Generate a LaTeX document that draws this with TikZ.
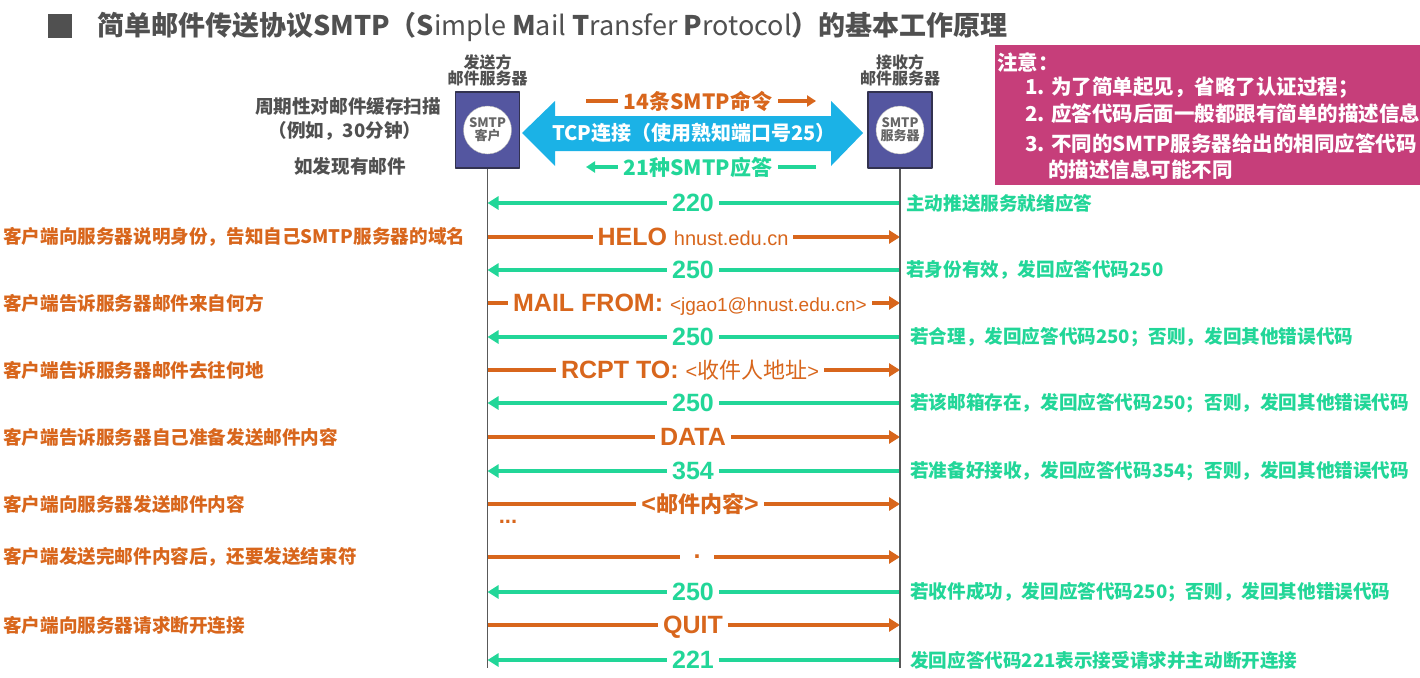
\documentclass[tikz,border=0pt]{standalone}
\usepackage{fontspec}
\setmainfont{Noto Sans CJK SC}
\newfontfamily\arialfont{Liberation Sans}
\usetikzlibrary{backgrounds}
\usetikzlibrary{arrows.meta}

\definecolor{cmdorange}{RGB}{216,102,28}
\definecolor{replygreen}{RGB}{34,214,152}
\definecolor{tcpblue}{RGB}{27,178,230}
\definecolor{boxblue}{RGB}{84,86,160}
\definecolor{boxedge}{RGB}{50,50,80}
\definecolor{notepink}{RGB}{198,62,122}
\definecolor{titlegray}{RGB}{80,80,80}

\newcommand{\fsz}[1]{\fontsize{#1}{#1}\selectfont}

\begin{document}
\begin{tikzpicture}[
    x=1pt, y=-1pt,
    font=\bfseries,
    line join=round,
    >=Latex,                % arrow tip style
    cmd/.style={draw=cmdorange, line width=4pt, -{Triangle[length=11pt,width=13pt]}},
    reply/.style={draw=replygreen, line width=4pt, -{Triangle[length=11pt,width=13pt]}},
    lbl/.style={fill=white, inner xsep=5pt, inner ysep=1pt, text height=17pt, text depth=1pt},
    cmdlbl/.style={lbl, text=cmdorange, font=\fsz{25}\bfseries\arialfont},
    numlbl/.style={lbl, text=replygreen, font=\fsz{25}\bfseries\arialfont},
    lnote/.style={anchor=west, inner sep=0pt, text=cmdorange, font=\fsz{18.6}\bfseries},
    rnote/.style={anchor=west, inner sep=0pt, text=replygreen, font=\fsz{18.6}\bfseries},
    mta/.style={draw=boxedge, fill=boxblue, line width=1.5pt, minimum width=64pt, minimum height=76pt},
    mtacore/.style={circle, draw=gray!60, fill=white, minimum size=48pt, inner sep=0pt,
                    align=center, text=gray!80!black, font=\fsz{13}\bfseries}
]
\useasboundingbox (0,0) rectangle (1420,677);

%-----------------------
% 1) TITLE
%-----------------------
\fill[titlegray] (48,14) rectangle (72,38);
\node[anchor=west, inner sep=0pt, text=titlegray, font=\fsz{27}\bfseries] (title) at (97,27)
  {简单邮件传送协议SMTP（S{\mdseries imple} M{\mdseries ail} T{\mdseries ransfer} P{\mdseries rotocol}）的基本工作原理};

%-----------------------
% 2) MAIL SERVERS (TOP)
%-----------------------
\node[mta] (cli) at (487.5,130) {};
\node[mtacore] (clicore) at (cli) {SMTP\\客户};
\node[align=center, text=titlegray, font=\fsz{16}\bfseries, inner sep=0pt] (clihead) at (487.5,70) {发送方\\邮件服务器};

\node[mta] (srv) at (900,130) {};
\node[mtacore] (srvcore) at (srv) {SMTP\\服务器};
\node[align=center, text=titlegray, font=\fsz{16}\bfseries, inner sep=0pt] (srvhead) at (900,70) {接收方\\邮件服务器};

% lifelines
\coordinate (cliend) at (487.5,668);
\coordinate (srvend) at (900,668);
\draw[gray!70!black, line width=1.6pt] (cli.south) -- (cliend);
\draw[gray!70!black, line width=1.6pt] (srv.south) -- (srvend);

% periodic scan note
\node[text=titlegray, font=\fsz{18.6}\bfseries, inner sep=0pt] (scan1) at (348,106) {周期性对邮件缓存扫描};
\node[text=titlegray, font=\fsz{18.6}\bfseries, inner sep=0pt] (scan2) at (345,131) {（例如，30分钟）};
\node[text=titlegray, font=\fsz{18.6}\bfseries, inner sep=0pt] (scan3) at (350,166) {如发现有邮件};

%-----------------------
% 3) TCP CONNECTION
%-----------------------
\fill[tcpblue] (522,133) -- (555,101) -- (555,116) -- (831,116) -- (831,101) -- (863,133)
  -- (831,166) -- (831,151) -- (555,151) -- (555,166) -- cycle;
\node[text=white, font=\fsz{20}\bfseries] (tcp) at (694,133) {TCP连接（使用熟知端口号25）};

\node[text=cmdorange, font=\fsz{21}\bfseries, inner xsep=6pt] (cmdcount) at (698,101) {14条SMTP命令};
\coordinate (cmdL) at (586,101);
\coordinate (cmdR) at (816,101);
\draw[cmdorange, line width=3.5pt] (cmdL) -- (cmdcount.west);
\draw[cmdorange, line width=3.5pt, -{Triangle[length=9pt,width=11pt]}] (cmdcount.east) -- (cmdR);

\node[text=replygreen, font=\fsz{21}\bfseries, inner xsep=6pt] (repcount) at (698,167) {21种SMTP应答};
\coordinate (repL) at (586,167);
\coordinate (repR) at (816,167);
\draw[replygreen, line width=3.5pt] (repR) -- (repcount.east);
\draw[replygreen, line width=3.5pt, -{Triangle[length=9pt,width=11pt]}] (repcount.west) -- (repL);

%-----------------------
% 4) NOTE BOX
%-----------------------
\fill[notepink] (995,45) rectangle (1420,185);
\node[anchor=west, inner sep=0pt, text=white, font=\fsz{20.5}\bfseries] (n0) at (997,63) {注意：};
\node[anchor=west, inner sep=0pt, text=white, font=\fsz{20.5}\bfseries] (n1) at (1025,88) {1. 为了简单起见，省略了认证过程；};
\node[anchor=west, inner sep=0pt, text=white, font=\fsz{20.5}\bfseries] (n2) at (1025,114) {2. 应答代码后面一般都跟有简单的描述信息};
\node[anchor=west, inner sep=0pt, text=white, font=\fsz{20.5}\bfseries] (n3) at (1025,144) {3. 不同的SMTP服务器给出的相同应答代码};
\node[anchor=west, inner sep=0pt, text=white, font=\fsz{20.5}\bfseries] (n4) at (1048,170) {的描述信息可能不同};

%-----------------------
% 5) COMMANDS AND REPLIES
%-----------------------
\node[numlbl] (m1) at (693,203) {220};
\node[rnote] (r1) at (906,203) {主动推送服务就绪应答};

\node[cmdlbl] (m2) at (693,237) {HELO {\mdseries\fsz{20}hnust.edu.cn}};
\node[lnote] (l2) at (3,237) {客户端向服务器说明身份，告知自己SMTP服务器的域名};

\node[numlbl] (m3) at (693,270) {250};
\node[rnote] (r3) at (906,270) {若身份有效，发回应答代码250};

\node[cmdlbl] (m4) at (690,303) {MAIL FROM: {\mdseries\fsz{19}<jgao1@hnust.edu.cn>}};
\node[lnote] (l4) at (3,303) {客户端告诉服务器邮件来自何方};

\node[numlbl] (m5) at (693,337) {250};
\node[rnote] (r5) at (910,337) {若合理，发回应答代码250；否则，发回其他错误代码};

\node[cmdlbl] (m6) at (690,370) {RCPT TO: {\mdseries\fsz{20}<{\normalfont\fsz{22}收件人地址}>}};
\node[lnote] (l6) at (3,370) {客户端告诉服务器邮件去往何地};

\node[numlbl] (m7) at (693,403) {250};
\node[rnote] (r7) at (910,403) {若该邮箱存在，发回应答代码250；否则，发回其他错误代码};

\node[cmdlbl] (m8) at (693,437) {DATA};
\node[lnote] (l8) at (3,437) {客户端告诉服务器自己准备发送邮件内容};

\node[numlbl] (m9) at (693,471) {354};
\node[rnote] (r9) at (910,471) {若准备好接收，发回应答代码354；否则，发回其他错误代码};

\node[cmdlbl] (m10) at (700,504) {<{\normalfont\bfseries\fsz{22}邮件内容}>};
\node[lnote] (l10) at (3,504) {客户端向服务器发送邮件内容};

\node[text=cmdorange, font=\fsz{22}\bfseries\arialfont, inner sep=0pt] (dots) at (508,522) {...};

\node[cmdlbl, text height=, text depth=, minimum width=34pt, minimum height=14pt] (m11) at (697,557) {.};
\node[lnote] (l11) at (3,557) {客户端发送完邮件内容后，还要发送结束符};

\node[numlbl] (m12) at (693,592) {250};
\node[rnote] (r12) at (910,592) {若收件成功，发回应答代码250；否则，发回其他错误代码};

\node[cmdlbl] (m13) at (693,625) {QUIT};
\node[lnote] (l13) at (3,625) {客户端向服务器请求断开连接};

\node[numlbl] (m14) at (693,660) {221};
\node[rnote] (r14) at (910,660) {发回应答代码221表示接受请求并主动断开连接};

% the arrows go behind their labels
\begin{scope}[on background layer]
  \draw[reply] (srv |- m1) -- (cli |- m1);
  \draw[cmd] (cli |- m2) -- (srv |- m2);
  \draw[reply] (srv |- m3) -- (cli |- m3);
  \draw[cmd] (cli |- m4) -- (srv |- m4);
  \draw[reply] (srv |- m5) -- (cli |- m5);
  \draw[cmd] (cli |- m6) -- (srv |- m6);
  \draw[reply] (srv |- m7) -- (cli |- m7);
  \draw[cmd] (cli |- m8) -- (srv |- m8);
  \draw[reply] (srv |- m9) -- (cli |- m9);
  \draw[cmd] (cli |- m10) -- (srv |- m10);
  \draw[cmd] (cli |- m11) -- (srv |- m11);
  \draw[reply] (srv |- m12) -- (cli |- m12);
  \draw[cmd] (cli |- m13) -- (srv |- m13);
  \draw[reply] (srv |- m14) -- (cli |- m14);
\end{scope}

\end{tikzpicture}
\end{document}
